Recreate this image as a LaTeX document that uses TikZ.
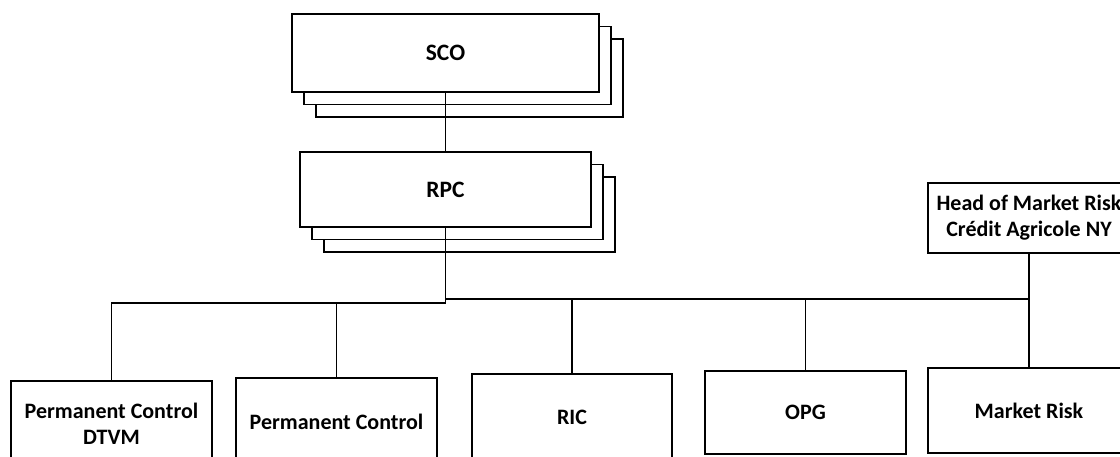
\documentclass[tikz,border=0pt]{standalone}
\usepackage{fontspec}
\setmainfont{Carlito}
\usepackage{tikz}
\usetikzlibrary{shadows,positioning}

\begin{document}
\begin{tikzpicture}[x=1pt, y=-1pt, line width=1.3pt,
    unit/.style={draw, fill=white, inner sep=0pt, align=center,
      font=\bfseries\fontsize{22}{26}\selectfont},
    stack/.style={unit, font=\bfseries\fontsize{23.5}{28}\selectfont,
      copy shadow={shadow xshift=24pt, shadow yshift=-25pt},
      copy shadow={shadow xshift=12pt, shadow yshift=-12.5pt}}]
    \clip (0,0) rectangle (1120,457);
    % committees
    \node[stack, minimum width=307pt, minimum height=78pt] (sco) at (445.5,53) {SCO};
    \node[stack, minimum width=291pt, minimum height=75pt] (rpc) at (445.5,189.5) {RPC};
    \node[unit, minimum width=202pt, minimum height=70pt] (head) at (1029,218) {Head of Market Risk\\Crédit Agricole NY};
    % departments
    \node[unit, minimum width=201pt, minimum height=86pt] (pcd) at (111.5,424) {Permanent Control\\DTVM};
    \node[unit, minimum width=201pt, minimum height=88pt] (pc) at (336.5,422) {Permanent Control};
    \node[unit, minimum width=200pt, minimum height=86pt] (ric) at (572,417) {RIC};
    \node[unit, minimum width=201pt, minimum height=83pt] (opg) at (805.5,412.5) {OPG};
    \node[unit, minimum width=202pt, minimum height=85pt] (mr) at (1029,410.5) {Market Risk};
    % reporting lines
    \coordinate (busl) at (0,303);
    \coordinate (busr) at (0,299);
    \draw (sco.south) -- (rpc.north);
    \draw (rpc.south) -- (rpc.south |- busl) -| (pcd.north);
    \draw (rpc.south |- busl) -| (pc.north);
    \draw (rpc.south |- busr) -- (head.south |- busr);
    \draw (rpc.south |- busr) -| (ric.north);
    \draw (rpc.south |- busr) -| (opg.north);
    \draw (head.south) -- (mr.north);
\end{tikzpicture}
\end{document}
